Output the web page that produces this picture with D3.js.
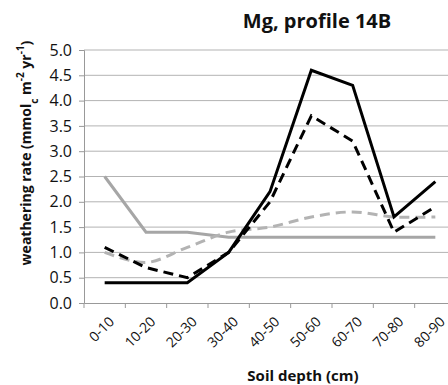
<!DOCTYPE html>
<html>
<head>
<meta charset="utf-8">
<script src="https://cdn.jsdelivr.net/npm/d3@7"></script>
<style>
  body { margin: 0; background: #fff; }
  text { font-family: "Open Sans", sans-serif; fill: #111; }
</style>
</head>
<body>
<div id="chart"></div>
<script>
// ---- data ----
const depths = ["0-10", "10-20", "20-30", "30-40", "40-50", "50-60", "60-70", "70-80", "80-90"];
const blackSolid  = [0.4, 0.4, 0.4, 1.0, 2.2, 4.6, 4.3, 1.7, 2.4];
const blackDashed = [1.1, 0.7, 0.5, 1.0, 2.0, 3.7, 3.2, 1.4, 1.9];
const graySolid   = [2.5, 1.4, 1.4, 1.3, 1.3, 1.3, 1.3, 1.3, 1.3];
const grayDashed  = [1.0, 0.8, 1.1, 1.4, 1.5, 1.7, 1.8, 1.7, 1.7];
const yTicks = [0, 0.5, 1, 1.5, 2, 2.5, 3, 3.5, 4, 4.5, 5];

const W = 448, H = 385;
const margin = { top: 50, right: -8, bottom: 82, left: 84 };
const width = W - margin.left - margin.right;
const height = H - margin.top - margin.bottom;

const svg = d3.select('#chart').append('svg')
    .attr('width', W).attr('height', H);
const g = svg.append('g')
    .attr('transform', `translate(${margin.left},${margin.top})`);

const x = d3.scaleBand().domain(depths).range([0, width]);
const y = d3.scaleLinear().domain([0, 5]).range([height, 0]);
const cx = d => x(d) + x.bandwidth() / 2;

// gridlines
g.append('g').selectAll('line')
    .data(yTicks.slice(1))
    .join('line')
    .attr('x1', 0).attr('x2', width)
    .attr('y1', d => y(d)).attr('y2', d => y(d))
    .attr('stroke', '#b3b3b3').attr('stroke-width', 1);

// y axis
const yAxis = g.append('g')
    .call(d3.axisLeft(y).tickValues(yTicks).tickFormat(d3.format('.1f')).tickSizeOuter(0).tickSize(5).tickPadding(7));
yAxis.select('.domain').attr('stroke', '#999');
yAxis.selectAll('.tick line').attr('stroke', '#999');
yAxis.selectAll('text').style('font-size', '16px').attr('fill', '#111');

// x axis
const xAxis = g.append('g')
    .attr('transform', `translate(0,${height})`)
    .call(d3.axisBottom(x).tickSize(0).tickFormat(''));
xAxis.select('.domain').attr('stroke', '#999');
g.append('g').selectAll('line')
    .data(depths)
    .join('line')
    .attr('x1', d => x(d)).attr('x2', d => x(d))
    .attr('y1', height).attr('y2', height + 5)
    .attr('stroke', '#999');

g.append('g').selectAll('text')
    .data(depths)
    .join('text')
    .attr('transform', d => `translate(${cx(d) + 7},${height + 16}) rotate(-45)`)
    .attr('text-anchor', 'end')
    .attr('dy', '0.35em')
    .style('font-size', '14px')
    .text(d => d);

// lines
const straight = d3.line().x((d, i) => cx(depths[i])).y(d => y(d));
const smooth = d3.line().x((d, i) => cx(depths[i])).y(d => y(d)).curve(d3.curveCatmullRom.alpha(0.5));

const series = [
    { values: graySolid, color: '#a6a6a6', dash: null, gen: straight },
    { values: grayDashed, color: '#b3b3b3', dash: '10,6', gen: smooth },
    { values: blackDashed, color: '#000', dash: '10,6', gen: straight },
    { values: blackSolid, color: '#000', dash: null, gen: straight }
];
series.forEach(s => {
    g.append('path')
        .datum(s.values)
        .attr('fill', 'none')
        .attr('stroke', s.color)
        .attr('stroke-width', 3)
        .attr('stroke-dasharray', s.dash)
        .attr('d', s.gen);
});

// title
svg.append('text')
    .attr('x', 317).attr('y', 28)
    .attr('text-anchor', 'middle')
    .style('font-size', '20px').style('font-weight', 'bold')
    .text('Mg, profile 14B');

// x label
svg.append('text')
    .attr('x', 303).attr('y', 381)
    .attr('text-anchor', 'middle')
    .style('font-size', '15px').style('font-weight', 'bold')
    .text('Soil depth (cm)');

// y label
const yl = svg.append('text')
    .attr('transform', 'translate(31,153) rotate(-90)')
    .attr('text-anchor', 'middle')
    .style('font-size', '14px').style('font-weight', 'bold');
yl.append('tspan').text('weathering rate (mmol');
yl.append('tspan').attr('baseline-shift', 'sub').style('font-size', '10px').text('c');
yl.append('tspan').text(' m');
yl.append('tspan').attr('baseline-shift', 'super').style('font-size', '10px').text('-2');
yl.append('tspan').text(' yr');
yl.append('tspan').attr('baseline-shift', 'super').style('font-size', '10px').text('-1');
yl.append('tspan').text(')');
</script>
</body>
</html>
